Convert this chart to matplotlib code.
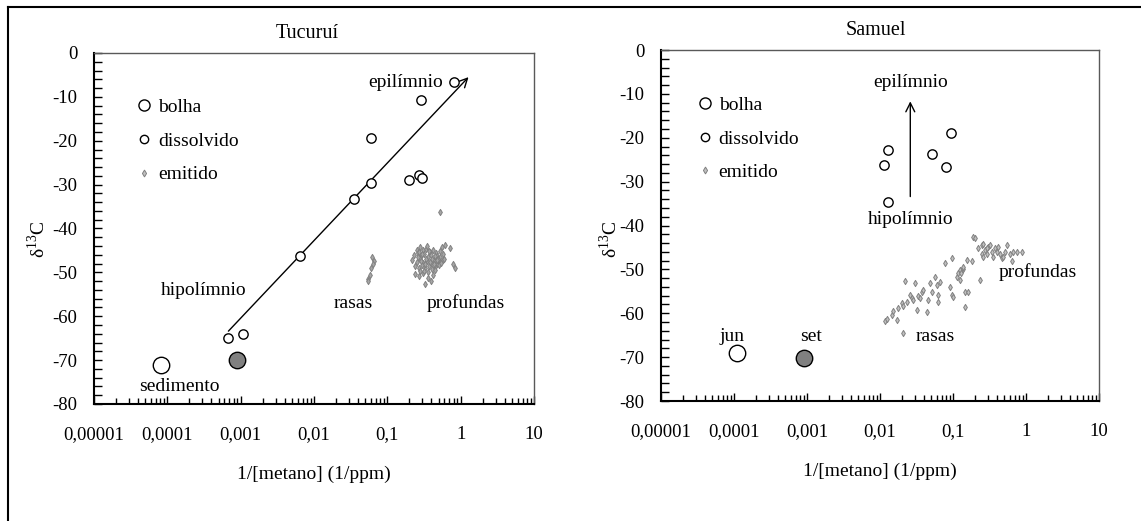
import numpy as np
import matplotlib
matplotlib.use("Agg")
import matplotlib.pyplot as plt
from matplotlib.lines import Line2D

plt.rcParams["font.family"] = ["Liberation Serif", "DejaVu Serif"]
plt.rcParams["mathtext.fontset"] = "custom"
plt.rcParams["mathtext.rm"] = "Liberation Serif"
plt.rcParams["axes.unicode_minus"] = False

# x tick values / labels (comma decimals)
xtick_vals = [1e-5, 1e-4, 1e-3, 1e-2, 1e-1, 1, 10]
xtick_labels = ["0,00001", "0,0001", "0,001", "0,01", "0,1", "1", "10"]
ytick_vals = [0, -10, -20, -30, -40, -50, -60, -70, -80]

# ---- Tucurui ----
tuc_dis_x = [0.8, 0.29, 0.06, 0.06, 0.035, 0.2, 0.27, 0.30, 0.0065, 0.00068, 0.00107]
tuc_dis_y = [-6.7, -10.8, -19.4, -29.6, -33.3, -29.0, -27.9, -28.6, -46.2, -65.0, -64.1]
tuc_bolha_x = [8.1e-5]
tuc_bolha_y = [-71.1]
tuc_bolha2_x = [0.00089]
tuc_bolha2_y = [-70.0]
tuc_emit_x = [0.062, 0.066, 0.064, 0.060, 0.058, 0.055, 0.054,
              0.25, 0.28, 0.31, 0.34, 0.38, 0.42, 0.46, 0.52, 0.56, 0.62, 0.72,
              0.23, 0.26, 0.29, 0.32, 0.36, 0.40, 0.44, 0.48, 0.53, 0.58,
              0.22, 0.25, 0.28, 0.31, 0.35, 0.39, 0.43, 0.47, 0.51, 0.57,
              0.24, 0.27, 0.30, 0.33, 0.37, 0.41, 0.45, 0.50,
              0.78, 0.85, 0.24, 0.27, 0.31, 0.36, 0.42, 0.33, 0.40, 0.52,
              0.27, 0.30, 0.34, 0.37, 0.41, 0.45, 0.49, 0.26, 0.29, 0.33,
              0.38, 0.43, 0.47, 0.28, 0.32, 0.36, 0.44, 0.54, 0.60, 0.35]
tuc_emit_y = [-46.5, -47.3, -48.2, -49.0, -50.5, -51.4, -52.0,
              -44.8, -44.2, -45.0, -44.6, -45.3, -44.9, -45.5, -45.1, -44.3, -43.8, -44.4,
              -46.0, -45.7, -46.3, -45.9, -46.5, -46.1, -46.8, -46.2, -46.6, -45.8,
              -47.2, -47.6, -47.0, -47.8, -47.3, -47.9, -47.4, -48.0, -47.5, -47.1,
              -48.5, -48.9, -48.3, -49.1, -48.6, -49.3, -48.8, -48.4,
              -48.2, -48.9, -50.3, -50.8, -50.1, -51.2, -50.6, -52.7, -51.9, -36.3,
              -45.4, -45.9, -46.9, -45.2, -47.0, -46.3, -46.9, -46.6, -47.4, -48.1,
              -47.7, -48.2, -47.2, -49.6, -49.8, -49.9, -49.5, -47.9, -46.9, -44.0]
tuc_line_x = [0.00068, 1.28]
tuc_line_y = [-63.4, -5.5]

# ---- Samuel ----
sam_dis_x = [0.0112, 0.0129, 0.0129, 0.051, 0.079, 0.094]
sam_dis_y = [-26.3, -22.9, -34.6, -23.6, -26.6, -18.9]
sam_jun_x = [0.00011]
sam_jun_y = [-69.1]
sam_set_x = [0.00091]
sam_set_y = [-70.2]
sam_emit_x = [0.0117, 0.0123, 0.0145, 0.0152, 0.0169, 0.0178, 0.0198, 0.0209, 0.0220, 0.0232,
              0.0258, 0.0272, 0.0286, 0.0302, 0.0318, 0.0335, 0.0353, 0.0372, 0.0392, 0.0436,
              0.0459, 0.0484, 0.0510, 0.0567, 0.0597, 0.0630, 0.0630, 0.0664, 0.0777, 0.0910,
              0.0959, 0.0959, 0.101, 0.112, 0.118, 0.125, 0.131, 0.139, 0.146, 0.146,
              0.154, 0.162, 0.180, 0.190, 0.200, 0.222, 0.234, 0.247, 0.260, 0.274,
              0.289, 0.305, 0.321, 0.357, 0.376, 0.396, 0.418, 0.440, 0.464, 0.489,
              0.515, 0.543, 0.604, 0.636, 0.670, 0.744, 0.87, 0.0209, 0.125, 0.289,
              0.339, 0.247, 0.260, 0.135, 0.128]
sam_emit_y = [-61.7, -61.4, -60.4, -59.4, -61.5, -58.9, -57.7, -58.4, -52.6, -57.4,
              -55.8, -56.6, -57.0, -53.2, -59.3, -56.1, -56.6, -55.1, -54.7, -59.6,
              -57.0, -53.2, -55.1, -51.7, -53.6, -55.8, -57.4, -52.8, -48.6, -53.9,
              -55.8, -47.5, -56.2, -51.7, -50.9, -52.4, -50.1, -50.0, -55.1, -58.5,
              -47.9, -55.1, -48.2, -42.7, -42.9, -45.2, -52.4, -44.4, -44.1, -45.6,
              -46.4, -44.8, -44.4, -47.1, -45.2, -46.0, -44.8, -46.4, -47.5, -47.1,
              -46.0, -44.4, -46.4, -48.2, -46.0, -46.0, -46.0, -64.6, -50.1, -45.2,
              -46.0, -46.4, -47.1, -49.5, -50.8]
sam_arrow_x = [0.026, 0.026]
sam_arrow_y = [-33.4, -11.7]

GRAY = "#808080"
FS = 14
TICK_FS = 13.5


def style_axes(ax, title, title_x):
    ax.set_xscale("log")
    ax.set_xlim(1e-5, 10)
    ax.set_ylim(-80, 0)
    ax.set_xticks(xtick_vals)
    ax.set_xticklabels(xtick_labels)
    ax.set_yticks(ytick_vals)
    ax.set_yticks(np.arange(-80, 1, 2), minor=True)
    ax.tick_params(axis="x", which="both", direction="in", top=False,
                   labelsize=TICK_FS, pad=16)
    ax.tick_params(axis="x", which="major", length=6, width=1)
    ax.tick_params(axis="x", which="minor", length=4, width=1)
    ax.tick_params(axis="y", which="both", direction="in", right=False,
                   labelsize=TICK_FS, pad=12, length=6, width=1)
    for s in ["left", "bottom"]:
        ax.spines[s].set_color("black")
        ax.spines[s].set_linewidth(1.5)
    for s in ["top", "right"]:
        ax.spines[s].set_color("#595959")
        ax.spines[s].set_linewidth(1.0)
    ax.set_title(title, fontsize=14.5, pad=11, x=title_x)
    ax.set_xlabel("1/[metano] (1/ppm)", fontsize=FS, labelpad=16)
    ax.set_ylabel("δ$^{13}$C", fontsize=FS)


def add_legend(ax, x0, y0):
    handles = [
        Line2D([], [], ls="none", marker="o", ms=8, mfc="white", mec="black", mew=1),
        Line2D([], [], ls="none", marker="o", ms=6, mfc="white", mec="black", mew=1),
        Line2D([], [], ls="none", marker="d", ms=3.5, mfc="#bfbfbf", mec=GRAY, mew=0.7),
    ]
    ax.legend(handles, ["bolha", "dissolvido", "emitido"], loc="upper left",
              bbox_to_anchor=(x0, y0), frameon=False, fontsize=FS,
              borderpad=0, borderaxespad=0, handlelength=1.0,
              handletextpad=0.22, labelspacing=0.82)


fig = plt.figure(figsize=(11.41, 5.21), dpi=100)
ax1 = fig.add_axes([0.0824, 0.2246, 0.3856, 0.6737])
ax2 = fig.add_axes([0.5793, 0.2303, 0.3839, 0.6737])

# outer frame (top and left edges only)
fig.add_artist(Line2D([0.007, 1.0], [0.9866, 0.9866], color="black", lw=1.5,
                      transform=fig.transFigure))
fig.add_artist(Line2D([0.007, 0.007], [0.0, 0.9866], color="black", lw=1.5,
                      transform=fig.transFigure))

# Tucurui panel
ax1.scatter(tuc_emit_x, tuc_emit_y, s=10, marker="d", facecolor="#a6a6a6",
            edgecolor=GRAY, linewidth=0.7, zorder=2)
ax1.annotate("", xy=(tuc_line_x[1], tuc_line_y[1]), xytext=(tuc_line_x[0], tuc_line_y[0]),
             arrowprops=dict(arrowstyle="->", color="black", lw=1.0,
                             shrinkA=0, shrinkB=0, mutation_scale=16), zorder=3)
ax1.scatter(tuc_dis_x, tuc_dis_y, s=45, marker="o", facecolor="white",
            edgecolor="black", linewidth=1, zorder=4)
ax1.scatter(tuc_bolha_x, tuc_bolha_y, s=140, marker="o", facecolor="white",
            edgecolor="black", linewidth=1, zorder=4)
ax1.scatter(tuc_bolha2_x, tuc_bolha2_y, s=140, marker="o", facecolor=GRAY,
            edgecolor="black", linewidth=1, zorder=4)
ax1.text(0.18, -6.7, "epilímnio", fontsize=FS, ha="center", va="center")
ax1.text(0.00031, -54.2, "hipolímnio", fontsize=FS, ha="center", va="center")
ax1.text(0.034, -57.0, "rasas", fontsize=FS, ha="center", va="center")
ax1.text(1.18, -57.0, "profundas", fontsize=FS, ha="center", va="center")
ax1.text(1.48e-4, -76.0, "sedimento", fontsize=FS, ha="center", va="center")
style_axes(ax1, "Tucuruí", 0.485)
ax1.yaxis.set_label_coords(-0.102, 0.47)
add_legend(ax1, 0.0916, 0.870)

# Samuel panel
ax2.scatter(sam_emit_x, sam_emit_y, s=10, marker="d", facecolor="#bfbfbf",
            edgecolor=GRAY, linewidth=0.7, zorder=2)
ax2.annotate("", xy=(sam_arrow_x[1], sam_arrow_y[1]), xytext=(sam_arrow_x[0], sam_arrow_y[0]),
             arrowprops=dict(arrowstyle="->", color="black", lw=1.0,
                             shrinkA=0, shrinkB=0, mutation_scale=16), zorder=3)
ax2.scatter(sam_dis_x, sam_dis_y, s=45, marker="o", facecolor="white",
            edgecolor="black", linewidth=1, zorder=4)
ax2.scatter(sam_jun_x, sam_jun_y, s=140, marker="o", facecolor="white",
            edgecolor="black", linewidth=1, zorder=4)
ax2.scatter(sam_set_x, sam_set_y, s=140, marker="o", facecolor=GRAY,
            edgecolor="black", linewidth=1, zorder=4)
ax2.text(0.026, -7.5, "epilímnio", fontsize=FS, ha="center", va="center")
ax2.text(0.026, -38.7, "hipolímnio", fontsize=FS, ha="center", va="center")
ax2.text(9.5e-5, -65.3, "jun", fontsize=FS, ha="center", va="center")
ax2.text(0.00112, -65.3, "set", fontsize=FS, ha="center", va="center")
ax2.text(0.057, -65.3, "rasas", fontsize=FS, ha="center", va="center")
ax2.text(1.46, -50.5, "profundas", fontsize=FS, ha="center", va="center")
style_axes(ax2, "Samuel", 0.49)
ax2.yaxis.set_label_coords(-0.091, 0.46)
add_legend(ax2, 0.0777, 0.868)

fig.savefig("out.png", dpi=100)
